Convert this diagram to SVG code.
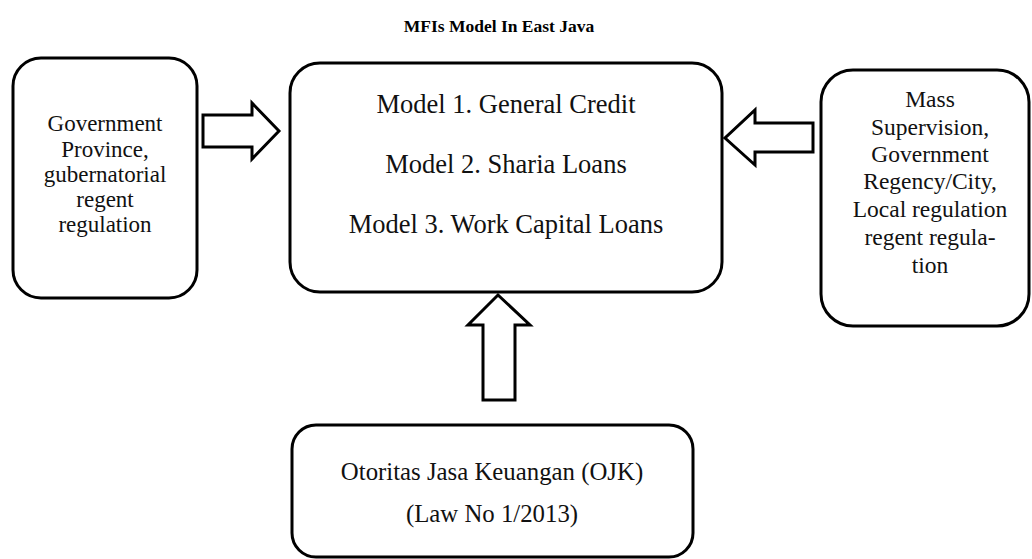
<svg xmlns="http://www.w3.org/2000/svg" width="1032" height="559" viewBox="0 0 1032 559">
<style>
.box{fill:#fff;stroke:#000;stroke-width:3}
.arr{fill:#fff;stroke:#000;stroke-width:3;stroke-linejoin:miter}
.t{font-family:"Liberation Serif","Times New Roman",serif;fill:#111;text-anchor:middle}
.title{font-family:"Liberation Serif","Times New Roman",serif;font-weight:bold;font-size:17.5px;text-anchor:middle;fill:#000}
</style>
<rect width="1032" height="559" fill="#fff"/>
<text class="title" x="499" y="32">MFIs Model In East Java</text>
<g id="connectors">
<polygon class="arr" points="203,115 252,115 252,103 279,131 252,159 252,147 203,147"/>
<polygon class="arr" points="813,123 755,123 755,110 725,138 755,165 755,152 813,152"/>
<polygon class="arr" points="483,400 483,325 468,325 498,295 530,325 515,325 515,400"/>
</g>
<g id="node-left">
<rect class="box" x="13" y="58" width="184" height="240" rx="28"/>
<g class="t" font-size="23">
<text x="105" y="131">Government</text>
<text x="105" y="157">Province,</text>
<text x="105" y="182">gubernatorial</text>
<text x="105" y="207">regent</text>
<text x="105" y="232">regulation</text>
</g>
</g>
<g id="node-center">
<rect class="box" x="290" y="63" width="432" height="229" rx="30"/>
<g class="t" font-size="26.5">
<text x="506" y="113">Model 1. General Credit</text>
<text x="506" y="173">Model 2. Sharia Loans</text>
<text x="506" y="233">Model 3. Work Capital Loans</text>
</g>
</g>
<g id="node-right">
<rect class="box" x="821" y="70" width="208" height="256" rx="32"/>
<g class="t" font-size="23.5">
<text x="930" y="107">Mass</text>
<text x="930" y="135">Supervision,</text>
<text x="930" y="162">Government</text>
<text x="930" y="189">Regency/City,</text>
<text x="930" y="217">Local regulation</text>
<text x="930" y="245">regent regula-</text>
<text x="930" y="273">tion</text>
</g>
</g>
<g id="node-bottom">
<rect class="box" x="292" y="425" width="401" height="132" rx="24"/>
<g class="t" font-size="24.8">
<text x="492" y="480">Otoritas Jasa Keuangan (OJK)</text>
<text x="492" y="522">(Law No 1/2013)</text>
</g>
</g>
</svg>
